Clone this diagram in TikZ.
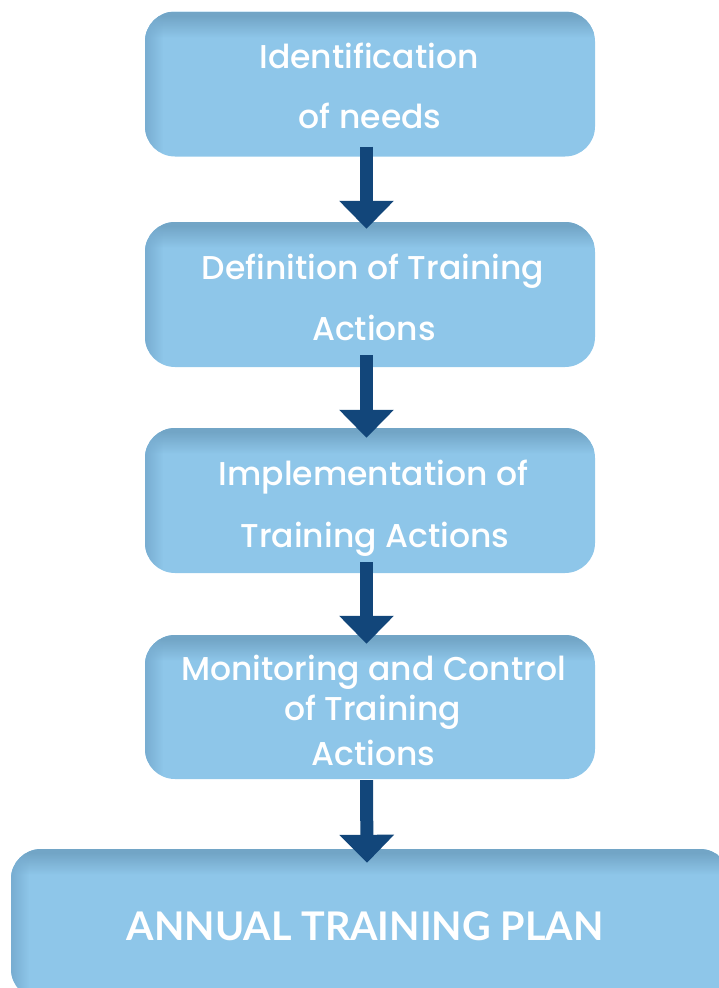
\documentclass[tikz,border=0pt]{standalone}
\usepackage{fontspec}
\usetikzlibrary{arrows.meta}
\newfontfamily\stagefont{Poppins Medium}
\newfontfamily\planfont{Lato}

\definecolor{boxfill}{HTML}{8EC6E9}
\definecolor{boxedge}{HTML}{72A5C6}
\definecolor{boxside}{HTML}{78ADD1}
\definecolor{arrowblue}{HTML}{12467A}

\tikzset{
  stage/.style={fill=boxfill, rounded corners=30pt, inner sep=0pt,
    minimum width=450pt, minimum height=145pt,
    path picture={
      % darker bevel along the top, built from thin strips
      \foreach \i [evaluate=\i as \p using {max(0,min(100,(\i-4)*100/22))}] in {0,...,26}
        \fill[sharp corners, boxfill!\p!boxedge]
          ([yshift=-\i pt]path picture bounding box.north west) rectangle
          ([yshift=-\i pt-1.05pt]path picture bounding box.north east);
      % and a translucent one along the left edge
      \foreach \i [evaluate=\i as \o using {1-\i/18}] in {0,...,17}
        \fill[sharp corners, boxside, fill opacity=\o]
          ([xshift=\i pt]path picture bounding box.north west) rectangle
          ([xshift=\i pt+1pt]path picture bounding box.south west);
    }},
  caption/.style={text=white, inner sep=0pt, anchor=base,
    font=\stagefont\fontsize{33}{38}\selectfont},
  plancaption/.style={text=white, inner sep=0pt, anchor=base,
    font=\planfont\bfseries\fontsize{39.5}{44}\selectfont},
  flow/.style={arrowblue, line width=13pt,
    -{Triangle[width=53pt,length=28pt]}},
}

\begin{document}
\begin{tikzpicture}[x=1pt, y=-1pt]
  \useasboundingbox (0,0) rectangle (718,988);

  % process stages
  \node[stage] (b1) at (370,84) {};
  \node[stage] (b2) at (370,294.5) {};
  \node[stage] (b3) at (370,500.5) {};
  \node[stage, minimum height=144pt] (b4) at (370,707) {};
  \node[stage, minimum width=719pt, minimum height=150pt] (b5) at (370.5,924) {};

  % stage captions
  \node[caption] (t1a) at (369,68)  {Identification};
  \node[caption] (t1b) at (370,128) {of needs};
  \node[caption] (t2a) at (373,279) {Definition of Training};
  \node[caption] (t2b) at (374,340) {Actions};
  \node[caption] (t3a) at (373.5,485) {Implementation of};
  \node[caption] (t3b) at (375,547) {Training Actions};
  \node[caption] (t4a) at (373.5,680) {Monitoring and Control};
  \node[caption] (t4b) at (372.5,720) {of Training};
  \node[caption] (t4c) at (373.5,765) {Actions};
  \node[plancaption] (t5) at (365,940) {ANNUAL TRAINING PLAN};

  % arrows between stages
  \draw[flow] ([xshift=-3.5pt,yshift=10pt]b1.south) -- ([xshift=-3.5pt,yshift=-7pt]b2.north);
  \draw[flow] ([xshift=-3.5pt,yshift=12pt]b2.south) -- ([xshift=-3.5pt,yshift=-10pt]b3.north);
  \draw[flow] ([xshift=-3.5pt,yshift=11pt]b3.south) -- ([xshift=-3.5pt,yshift=-9pt]b4.north);
  \draw[flow] ([xshift=-3.5pt,yshift=-1pt]b4.south) -- ([xshift=-3.5pt,yshift=-14pt]b5.north);
\end{tikzpicture}
\end{document}
